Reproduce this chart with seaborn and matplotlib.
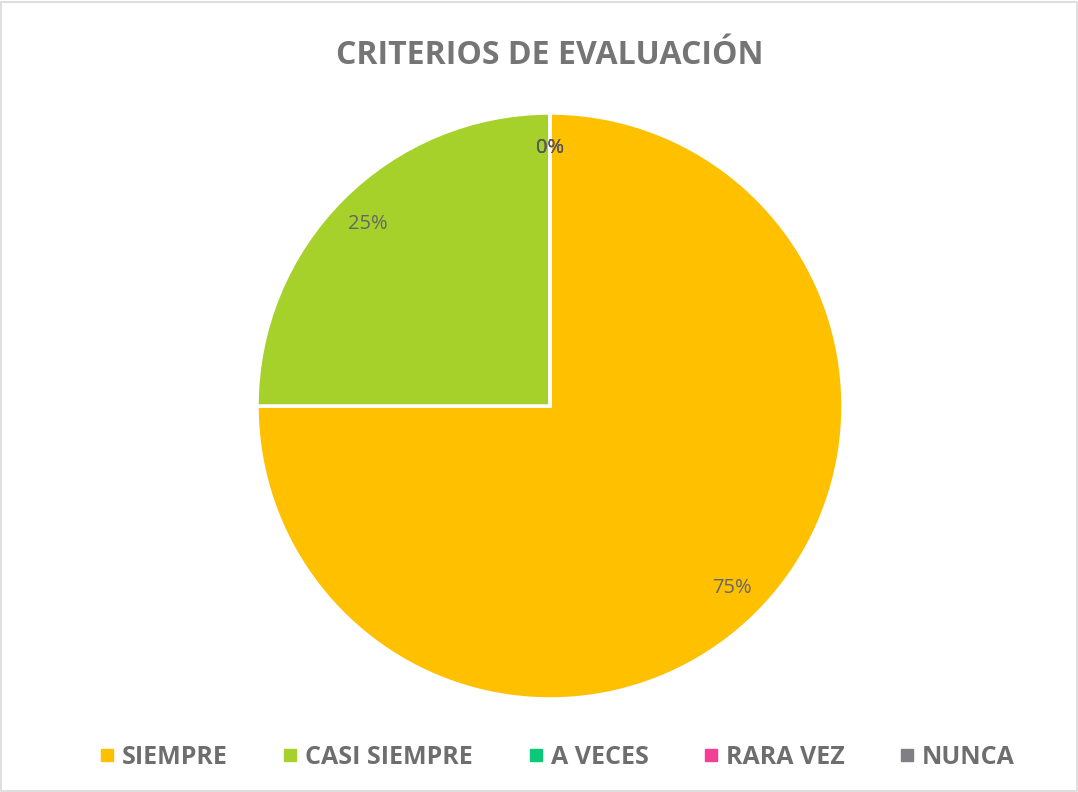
import matplotlib
matplotlib.use("Agg")
import matplotlib.pyplot as plt
from matplotlib.lines import Line2D
from matplotlib.patches import Rectangle
import seaborn as sns

# datos del grafico
categorias = ["SIEMPRE", "CASI SIEMPRE", "A VECES", "RARA VEZ", "NUNCA"]
valores = [75, 25, 0, 0, 0]
colores = ["#FFC000", "#A6D12A", "#0CC97A", "#F23F95", "#808084"]
titulo = "CRITERIOS DE EVALUACIÓN"

sns.set_theme(style="white")
plt.rcParams["font.family"] = ["Open Sans", "DejaVu Sans"]

W, H = 1078, 792
fig = plt.figure(figsize=(W / 100, H / 100), dpi=100)
fig.patch.set_facecolor("white")

# marco gris alrededor
fig.add_artist(Rectangle((0.001, 0.001), 0.998, 0.997, transform=fig.transFigure,
                         fill=False, edgecolor="#D9D9D9", linewidth=1.2))

cx, cy, r = 550, 406, 293
ax = fig.add_axes([(cx - r) / W, (H - cy - r) / H, 2 * r / W, 2 * r / H])

pal = sns.color_palette(colores)
wedges, textos, autotextos = ax.pie(
    valores, colors=pal, startangle=90, counterclock=False,
    autopct=lambda p: f"{p:.0f}%", pctdistance=0.88,
    wedgeprops=dict(edgecolor="white", linewidth=2.5),
    textprops=dict(color="#666666", fontsize=14.5),
)
# las tres etiquetas de 0% quedan superpuestas arriba
for t, v in zip(autotextos, valores):
    if v == 0:
        t.set_color("#595959")
ax.set_xlim(-1, 1)
ax.set_ylim(-1, 1)
ax.set_aspect("equal")
ax.axis("off")

fig.text(cx / W, 1 - 55 / H, titulo, ha="center", va="center", fontsize=23,
         fontweight="bold", color="#757575")

handles = [Line2D([0], [0], marker="s", linestyle="", markersize=9,
                  markerfacecolor=c, markeredgecolor=c) for c in colores]
leg = fig.legend(handles, categorias, loc="center", bbox_to_anchor=(556 / W, 1 - 757 / H),
                 ncol=5, frameon=False, handletextpad=0.2, columnspacing=2.1,
                 handlelength=0.8, prop=dict(size=18, weight="bold"))
for t in leg.get_texts():
    t.set_color("#6E6E6E")

fig.savefig("out.png", dpi=100, facecolor="white")
